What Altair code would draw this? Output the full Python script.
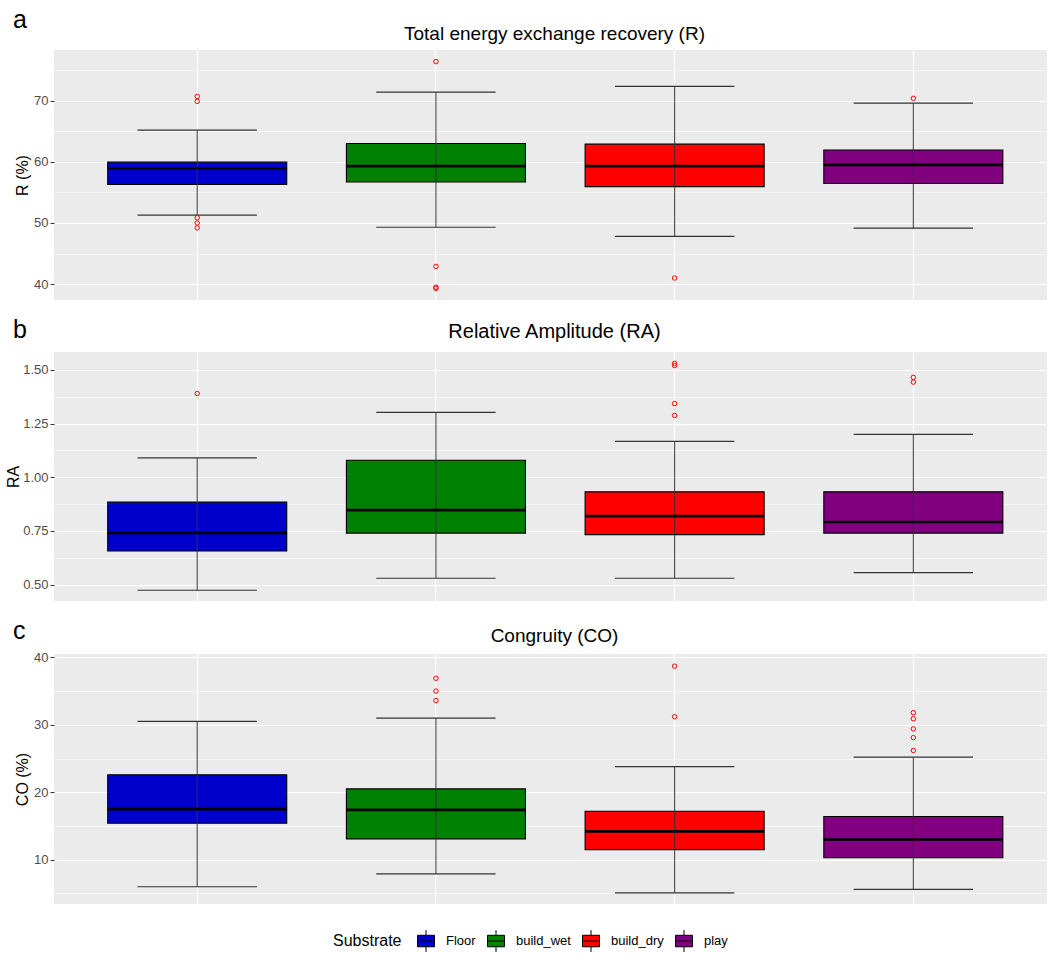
import altair as alt
import pandas as pd

FONT = "Liberation Sans"

groups = ["Floor", "build_wet", "build_dry", "play"]
fills = ["#0000CD", "#008000", "#FF0000", "#800080"]

# Panel a: total energy exchange recovery R (%)
r_lo = [51.3, 49.3, 47.8, 49.15]
r_q1 = [56.3, 56.7, 55.95, 56.45]
r_med = [58.95, 59.3, 59.3, 59.5]
r_q3 = [59.95, 63.0, 62.9, 61.95]
r_hi = [65.2, 71.4, 72.35, 69.6]
r_out_group = ["Floor", "Floor", "Floor", "Floor", "Floor",
               "build_wet", "build_wet", "build_wet", "build_wet",
               "build_dry", "play"]
r_out_value = [70.7, 69.9, 50.85, 50.0, 49.2,
               76.4, 42.9, 39.5, 39.3,
               41.0, 70.4]

# Panel b: relative amplitude RA
ra_lo = [0.474, 0.530, 0.530, 0.556]
ra_q1 = [0.657, 0.740, 0.733, 0.740]
ra_med = [0.741, 0.847, 0.819, 0.792]
ra_q3 = [0.884, 1.079, 0.932, 0.932]
ra_hi = [1.09, 1.302, 1.167, 1.20]
ra_out_group = ["Floor", "build_dry", "build_dry", "build_dry", "build_dry",
                "play", "play"]
ra_out_value = [1.39, 1.530, 1.520, 1.343, 1.288, 1.465, 1.443]

# Panel c: congruity CO (%)
co_lo = [6.0, 7.9, 5.1, 5.6]
co_q1 = [15.4, 13.1, 11.5, 10.3]
co_med = [17.5, 17.4, 14.2, 13.0]
co_q3 = [22.6, 20.5, 17.2, 16.4]
co_hi = [30.5, 31.0, 23.8, 25.2]
co_out_group = ["build_wet", "build_wet", "build_wet",
                "build_dry", "build_dry",
                "play", "play", "play", "play", "play"]
co_out_value = [36.9, 35.0, 33.6, 38.7, 31.2, 31.8, 30.9, 29.4, 28.1, 26.2]

W = 993
STEP = W / 4.16

# legend key: a small box with median line and whiskers
BOX_PATH = ("M-0.74,-0.5H0.74V0.5H-0.74Z M-0.74,0H0.74 "
            "M0,-0.5V-0.95 M0,0.5V0.95")


def panel(letter, title, title_size, ytitle, lo, q1, med, q3, hi, og, ov,
          domain, ticks, major_test, fmt, letter_y, title_y, ytitle_x,
          height):
    summ = pd.DataFrame({"Substrate": groups, "lo": lo, "q1": q1,
                         "med": med, "q3": q3, "hi": hi})
    outl = pd.DataFrame({"Substrate": og, "value": ov})

    x = alt.X(
        "Substrate:N", sort=groups,
        scale=alt.Scale(type="band", domain=groups, paddingInner=0,
                        paddingOuter=0.08, align=0.625),
        axis=alt.Axis(title=None, labels=False, ticks=False, domain=False,
                      grid=True, gridColor="white", gridWidth=1.2,
                      bandPosition=0.5),
    )
    yscale = alt.Scale(domain=domain, nice=False, zero=False)
    yaxis = alt.Axis(
        title=ytitle, values=ticks, format=fmt,
        labelExpr=f"({major_test}) ? datum.label : ''",
        tickColor={"condition": {"test": major_test, "value": "#333333"},
                   "value": "rgba(0,0,0,0)"},
        gridWidth={"condition": {"test": major_test, "value": 1.2},
                   "value": 0.6},
        gridColor="white", domain=False, tickSize=4, tickWidth=1,
        labelPadding=2, labelFontSize=13, labelColor="#4D4D4D",
        labelFont=FONT, titleFont=FONT, titleFontSize=16,
        titleFontWeight="normal", titleColor="black",
        titleX=ytitle_x, titleY=height / 2, titleAlign="center",
        titleBaseline="middle", titleAngle=270,
    )
    color = alt.Color(
        "Substrate:N", sort=groups,
        scale=alt.Scale(domain=groups, range=fills),
        legend=alt.Legend(
            title="Substrate", orient="none", legendX=279, legendY=879,
            direction="horizontal", titleOrient="left",
            titleFont=FONT, titleFontSize=16, titleFontWeight="normal",
            titleColor="black", titleBaseline="middle", titlePadding=12,
            labelFont=FONT, labelFontSize=13, labelColor="black",
            labelOffset=8, columnPadding=8,
            symbolType=BOX_PATH, symbolSize=529,
            symbolStrokeColor="black", symbolStrokeWidth=1,
            symbolOpacity=1,
        ),
    )

    base = alt.Chart(summ)
    caps_lo = base.mark_tick(size=0.5 * STEP, thickness=1.2, color="#333333",
                             opacity=1).encode(
        x=x, y=alt.Y("lo:Q", scale=yscale, axis=yaxis))
    caps_hi = base.mark_tick(size=0.5 * STEP, thickness=1.2, color="#333333",
                             opacity=1).encode(
        x=x, y=alt.Y("hi:Q", scale=yscale, axis=yaxis))
    boxes = base.mark_bar(width=alt.RelativeBandSize(0.75), stroke="black",
                          strokeWidth=1.1, opacity=1).encode(
        x=x, y=alt.Y("q1:Q", scale=yscale, axis=yaxis), y2="q3:Q",
        color=color)
    whisk = base.mark_rule(color="#333333", strokeWidth=1.1,
                           opacity=0.9).encode(
        x=x, y=alt.Y("lo:Q", scale=yscale, axis=yaxis), y2="hi:Q")
    medians = base.mark_tick(size=0.75 * STEP, thickness=2.6, color="black",
                             opacity=1).encode(
        x=x, y=alt.Y("med:Q", scale=yscale, axis=yaxis))
    pts = alt.Chart(outl).mark_point(shape="circle", filled=False,
                                     color="#FF0000", size=20,
                                     strokeWidth=1, opacity=1).encode(
        x=x, y=alt.Y("value:Q", scale=yscale, axis=yaxis))

    tag = alt.Chart(pd.DataFrame({"t": [letter]})).mark_text(
        align="left", baseline="alphabetic", font=FONT, fontSize=25,
        color="black").encode(x=alt.value(-41), y=alt.value(letter_y),
                              text="t:N")
    head = alt.Chart(pd.DataFrame({"t": [title]})).mark_text(
        align="center", baseline="alphabetic", font=FONT,
        fontSize=title_size, color="black").encode(
        x=alt.value(W / 2 + 4), y=alt.value(title_y), text="t:N")

    return alt.layer(caps_lo, caps_hi, boxes, whisk, medians, pts,
                     tag, head).properties(width=W, height=height)


pa = panel("a", "Total energy exchange recovery (R)", 19, "R (%)",
           r_lo, r_q1, r_med, r_q3, r_hi, r_out_group, r_out_value,
           [37.4, 78.3], [40, 45, 50, 55, 60, 65, 70, 75],
           "datum.value % 10 === 0", "d", -22, -10, -32, 250)
pb = panel("b", "Relative Amplitude (RA)", 20, "RA",
           ra_lo, ra_q1, ra_med, ra_q3, ra_hi, ra_out_group, ra_out_value,
           [0.424, 1.583],
           [0.5, 0.625, 0.75, 0.875, 1.0, 1.125, 1.25, 1.375, 1.5],
           "abs(datum.value * 4 - round(datum.value * 4)) < 0.001", ".2f",
           -14, -14, -41, 249)
pc = panel("c", "Congruity (CO)", 19, "CO (%)",
           co_lo, co_q1, co_med, co_q3, co_hi, co_out_group, co_out_value,
           [3.44, 40.5], [5, 10, 15, 20, 25, 30, 35, 40],
           "datum.value % 10 === 0", "d", -15, -12, -32, 250)

chart = alt.vconcat(pa, pb, pc, spacing=18).properties(
    padding={"left": 5, "top": 8, "right": 3, "bottom": 2},
).configure(font=FONT).configure_view(fill="#EBEBEB", stroke=None)

chart.save("out.html", embed_options={"renderer": "svg", "actions": False})
